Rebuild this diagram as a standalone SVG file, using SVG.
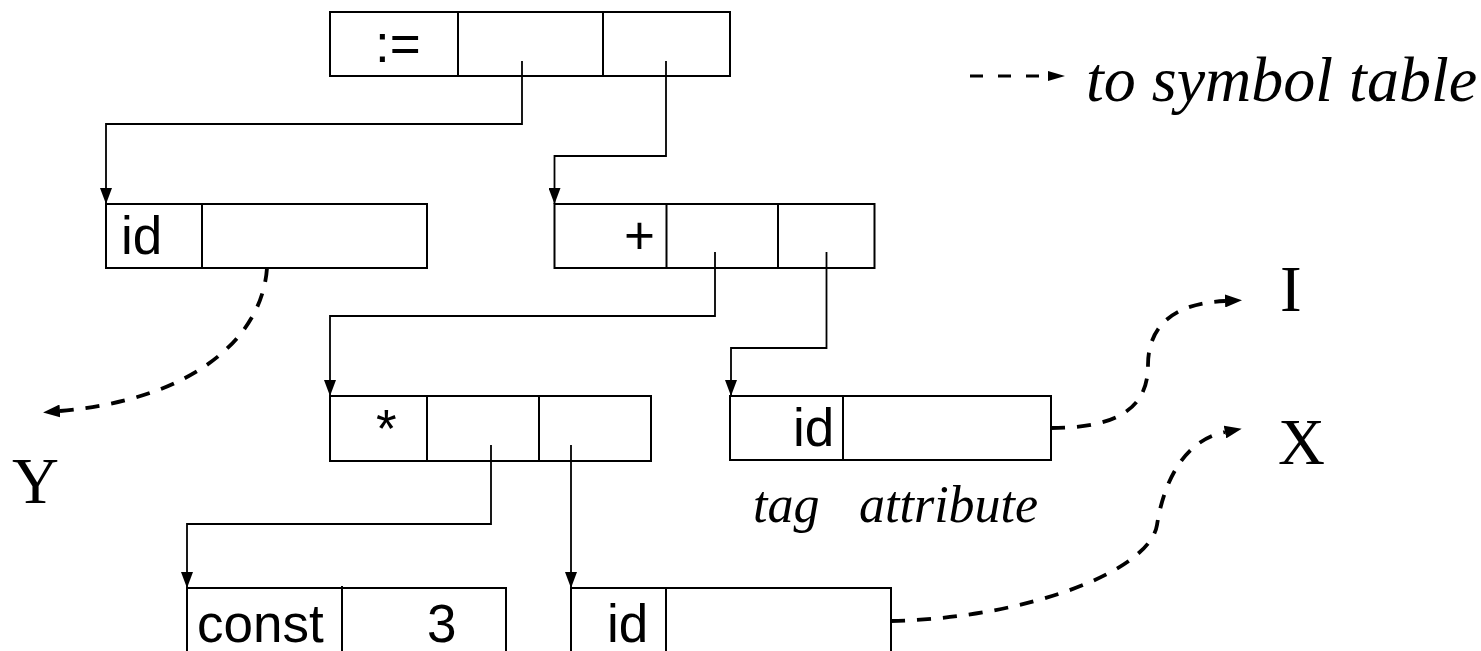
<svg xmlns="http://www.w3.org/2000/svg" width="1481" height="651" viewBox="0 0 1481 651">
<style>
.box{fill:none;stroke:#000;stroke-width:2}
.div{stroke:#000;stroke-width:2}
.lbl{font-family:"Liberation Sans",Arial,sans-serif;font-size:53px;fill:#000}
.it{font-family:"Liberation Serif","Times New Roman",serif;font-style:italic;fill:#000}
.sym{font-family:"Liberation Serif","Times New Roman",serif;font-size:65px;fill:#000}
.conn{fill:none;stroke:#000;stroke-width:1.8;marker-end:url(#sa)}
.dash{fill:none;stroke:#000;stroke-width:3.8;stroke-dasharray:14 12;marker-end:url(#da)}
</style>
<defs>
<marker id="sa" markerUnits="userSpaceOnUse" viewBox="0 0 16 12" markerWidth="16" markerHeight="12" refX="16" refY="6" orient="auto"><path d="M0,0 L16,6 L0,12 z" fill="#000"/></marker>
<marker id="da" markerUnits="userSpaceOnUse" viewBox="0 0 17 13" markerWidth="17" markerHeight="13" refX="0" refY="6.5" orient="auto"><path d="M0,0 L17,6.5 L0,13 z" fill="#000"/></marker>
<marker id="la" markerUnits="userSpaceOnUse" viewBox="0 0 17 10" markerWidth="17" markerHeight="10" refX="0" refY="5" orient="auto"><path d="M0,0 L17,5 L0,10 z" fill="#000"/></marker>
</defs>
<rect width="1481" height="651" fill="#fff"/>

<g id="assign">
<rect class="box" x="330" y="12" width="400" height="64"/>
<line class="div" x1="458" y1="12" x2="458" y2="76"/>
<line class="div" x1="603" y1="12" x2="603" y2="76"/>
<text class="lbl" x="375" y="62">:=</text>
</g>

<g id="idY">
<rect class="box" x="106" y="204" width="321" height="64"/>
<line class="div" x1="202" y1="204" x2="202" y2="268"/>
<text class="lbl" x="121" y="254">id</text>
</g>

<g id="plus">
<rect class="box" x="554.5" y="204" width="320" height="64"/>
<line class="div" x1="666.5" y1="204" x2="666.5" y2="268"/>
<line class="div" x1="778" y1="204" x2="778" y2="268"/>
<text class="lbl" x="624" y="254">+</text>
</g>

<g id="times">
<rect class="box" x="330" y="396" width="321" height="65"/>
<line class="div" x1="427" y1="396" x2="427" y2="461"/>
<line class="div" x1="539" y1="396" x2="539" y2="461"/>
<text class="lbl" x="376" y="447">*</text>
</g>

<g id="idI">
<rect class="box" x="730" y="396" width="321" height="64"/>
<line class="div" x1="843" y1="396" x2="843" y2="460"/>
<text class="lbl" x="793" y="446">id</text>
<text class="it" x="753" y="522" font-size="52">tag</text>
<text class="it" x="859" y="522" font-size="52">attribute</text>
</g>

<g id="const3">
<rect class="box" x="187" y="588" width="319" height="80"/>
<line class="div" x1="342" y1="586" x2="342" y2="668"/>
<text class="lbl" x="197" y="642">const</text>
<text class="lbl" x="427" y="642">3</text>
</g>

<g id="idX">
<rect class="box" x="571" y="588" width="320" height="80"/>
<line class="div" x1="666" y1="588" x2="666" y2="668"/>
<text class="lbl" x="607" y="642">id</text>
</g>

<g id="symbols">
<text class="sym" x="12" y="503">Y</text>
<text class="sym" x="1280" y="311">I</text>
<text class="sym" x="1278" y="464">X</text>
</g>

<g id="legend">
<path d="M970,76 L1048,76" fill="none" stroke="#000" stroke-width="3" stroke-dasharray="13 15" marker-end="url(#la)"/>
<text class="it" x="1086" y="101" font-size="64">to symbol table</text>
</g>

<g id="connectors">
<path class="conn" d="M522,61 V124 H106 V204"/>
<path class="conn" d="M666,61 V156 H554.5 V204"/>
<path class="conn" d="M715,252 V316 H330 V396"/>
<path class="conn" d="M826.5,252 V348 H731 V396"/>
<path class="conn" d="M491,445 V524 H187 V588"/>
<path class="conn" d="M571,445 V588"/>
<path class="dash" d="M267,268 C262,340 190,400 60,411"/>
<path class="dash" d="M1051,428 C1125,428 1148,403 1148,365 C1148,325 1175,303 1225,301"/>
<path class="dash" d="M891,621 C1030,618 1150,570 1157,525 C1164,480 1185,440 1225,432"/>
</g>
</svg>
